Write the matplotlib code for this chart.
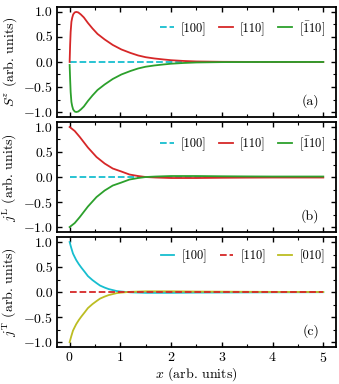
import numpy as np
import matplotlib
matplotlib.use("Agg")
import matplotlib.pyplot as plt
from matplotlib.ticker import MultipleLocator, FuncFormatter

# ---------------- data ----------------
xa = [0, 0.01, 0.02, 0.035, 0.05, 0.07, 0.1, 0.13, 0.17, 0.22, 0.28, 0.36, 0.45,
      0.55, 0.69, 0.85, 1.02, 1.2, 1.35, 1.5, 1.67, 1.85, 2.0, 2.25, 2.5, 3.0,
      3.5, 4.0, 4.5, 5.0]
sz_110 = [0, 0.35, 0.6, 0.8, 0.88, 0.95, 0.99, 1.0, 0.99, 0.95, 0.89, 0.78, 0.67,
          0.56, 0.45, 0.34, 0.25, 0.18, 0.13, 0.095, 0.07, 0.05, 0.035, 0.02,
          0.01, 0.003, 0.001, 0.0, 0.0, 0.0]
sz_m110 = [-0.06, -0.35, -0.6, -0.8, -0.88, -0.95, -0.99, -1.0, -0.99, -0.95,
           -0.89, -0.78, -0.67, -0.56, -0.45, -0.34, -0.25, -0.18, -0.13, -0.095,
           -0.07, -0.05, -0.035, -0.02, -0.01, -0.003, -0.001, 0.0, 0.0, 0.0]

xb = [0, 0.1, 0.2, 0.36, 0.53, 0.69, 0.85, 1.02, 1.18, 1.35, 1.5, 1.7, 2.0, 2.5,
      3.0, 3.5, 4.0, 4.5, 5.0]
jl_110 = [1.0, 0.92, 0.8, 0.59, 0.4, 0.27, 0.17, 0.11, 0.05, 0.02, 0.0, -0.01,
          -0.02, -0.02, -0.015, -0.012, -0.01, -0.01, -0.01]
jl_m110 = [-1.0, -0.92, -0.8, -0.59, -0.4, -0.27, -0.17, -0.11, -0.05, -0.02, 0.0,
           0.01, 0.02, 0.02, 0.015, 0.012, 0.01, 0.01, 0.01]

xc = [0, 0.033, 0.066, 0.1, 0.13, 0.18, 0.23, 0.3, 0.36, 0.45, 0.53, 0.6, 0.69,
      0.77, 0.85, 0.93, 1.02, 1.2, 1.5, 2.0, 2.5, 3.0, 4.0, 5.0]
jt_100 = [1.0, 0.88, 0.77, 0.7, 0.64, 0.56, 0.49, 0.4, 0.32, 0.24, 0.18, 0.13,
          0.09, 0.06, 0.04, 0.02, 0.01, -0.005, -0.015, -0.015, -0.01, -0.008,
          -0.004, -0.002]
jt_010 = [-1.0, -0.88, -0.77, -0.7, -0.64, -0.56, -0.49, -0.4, -0.32, -0.24,
          -0.18, -0.13, -0.09, -0.06, -0.04, -0.02, -0.01, 0.005, 0.015, 0.015,
          0.01, 0.008, 0.004, 0.002]

zero_x = [0, 5]
zero_y = [0, 0]

labels_ab = ["[100]", "[110]", r"[$\bar{1}$10]"]
labels_c = ["[100]", "[110]", "[010]"]
ylabels = [r"$S^z$ (arb. units)", r"$j^{\mathrm{L}}$ (arb. units)",
           r"$j^{\mathrm{T}}$ (arb. units)"]
panel_tags = ["(a)", "(b)", "(c)"]
xlabel = r"$x$ (arb. units)"

# ---------------- style ----------------
plt.rcParams.update({
    "font.family": "cmr10",
    "mathtext.fontset": "cm",
    "axes.formatter.use_mathtext": True,
    "font.size": 10,
    "axes.linewidth": 1.3,
    "xtick.direction": "in",
    "ytick.direction": "in",
    "xtick.top": True,
    "ytick.right": True,
    "xtick.minor.visible": True,
    "ytick.minor.visible": True,
    "xtick.major.size": 3.5,
    "ytick.major.size": 3.5,
    "xtick.minor.size": 2,
    "ytick.minor.size": 2,
    "xtick.major.width": 1.0,
    "ytick.major.width": 1.0,
    "xtick.minor.width": 0.8,
    "ytick.minor.width": 0.8,
})

c_cyan, c_red, c_green, c_olive = "#17becf", "#d62728", "#2ca02c", "#bcbd22"
lw = 1.3

fig = plt.figure(figsize=(3.39, 3.84), dpi=100)
gs = fig.add_gridspec(3, 1, left=0.168, right=0.991, top=0.982, bottom=0.096,
                      hspace=0.045)
axes = [fig.add_subplot(gs[i]) for i in range(3)]

ax = axes[0]
ax.plot(zero_x, zero_y, "--", color=c_cyan, lw=lw, label=labels_ab[0])
ax.plot(xa, sz_110, "-", color=c_red, lw=lw, label=labels_ab[1])
ax.plot(xa, sz_m110, "-", color=c_green, lw=lw, label=labels_ab[2])

ax = axes[1]
ax.plot(zero_x, zero_y, "--", color=c_cyan, lw=lw, label=labels_ab[0])
ax.plot(xb, jl_110, "-", color=c_red, lw=lw, label=labels_ab[1])
ax.plot(xb, jl_m110, "-", color=c_green, lw=lw, label=labels_ab[2])

ax = axes[2]
ax.plot(xc, jt_100, "-", color=c_cyan, lw=lw, label=labels_c[0])
ax.plot(zero_x, zero_y, "--", color=c_red, lw=lw, label=labels_c[1], zorder=3)
ax.plot(xc, jt_010, "-", color=c_olive, lw=lw, label=labels_c[2])

fmt = FuncFormatter(lambda v, p: ("$-$" + "%.1f" % abs(v)) if v < -1e-9
                    else "%.1f" % abs(v))

for i, ax in enumerate(axes):
    ax.set_xlim(-0.25, 5.25)
    ax.set_ylim(-1.1, 1.1)
    ax.xaxis.set_major_locator(MultipleLocator(1))
    ax.xaxis.set_minor_locator(MultipleLocator(0.5))
    ax.yaxis.set_major_locator(MultipleLocator(0.5))
    ax.yaxis.set_minor_locator(MultipleLocator(0.25))
    ax.yaxis.set_major_formatter(fmt)
    ax.set_ylabel(ylabels[i], labelpad=3)
    ax.tick_params(which="both", pad=3)
    ax.legend(loc="upper right", ncol=3, frameon=False, fontsize=9,
              handlelength=1.1, handletextpad=0.55, columnspacing=1.0,
              borderaxespad=0.0, bbox_to_anchor=(0.978, 0.935))
    ax.text(0.94, 0.08, panel_tags[i], transform=ax.transAxes,
            ha="right", va="bottom")
    if i < 2:
        ax.tick_params(labelbottom=False)

axes[2].set_xlabel(xlabel, labelpad=0)

fig.savefig("out.png", dpi=100)
